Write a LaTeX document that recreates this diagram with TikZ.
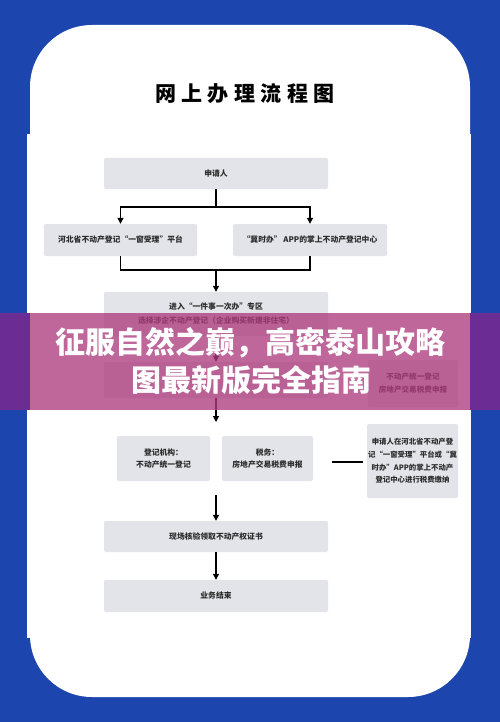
\documentclass[tikz,border=0pt]{standalone}
\usepackage{fontspec}
\setmainfont{Noto Sans CJK SC}
\usetikzlibrary{arrows.meta}
\definecolor{bgblue}{HTML}{1C45AE}
\definecolor{boxgray}{HTML}{E3E4E9}
\definecolor{txt}{HTML}{2C2C2C}
\definecolor{bannerpink}{HTML}{AE3B7E}
\definecolor{bannerside}{HTML}{6B2C94}
\begin{document}
\begin{tikzpicture}[x=1pt,y=-1pt,
  box/.style={fill=boxgray, rounded corners=2pt, inner sep=0pt, text=txt,
    font=\fontsize{7.8}{12}\selectfont\bfseries, align=center},
  arr/.style={line width=1.1pt, -{Triangle[length=6pt,width=6pt]}},
  ln/.style={line width=1.1pt},
  bantext/.style={text=white, font=\fontsize{30}{36}\selectfont\bfseries, inner sep=0pt}]
\useasboundingbox (0,0) rectangle (500,722);
% background
\fill[bgblue] (0,0) rectangle (500,722);
\fill[white, rounded corners=62pt] (30,25) rectangle (470,697);
\fill[white] (27,134) rectangle (471,638);
% title
\node[inner sep=0pt, font=\fontsize{21}{21}\selectfont\bfseries] (title) at (245,94)
  {网\hspace{5.5pt}上\hspace{5.5pt}办\hspace{5.5pt}理\hspace{5.5pt}流\hspace{5.5pt}程\hspace{5.5pt}图};
% boxes
\node[box, minimum width=224pt, minimum height=31pt] (apply) at (216,173.5) {申请人};
\node[box, minimum width=153pt, minimum height=32pt] (hebei) at (120.5,240) {河北省不动产登记“一窗受理”平台};
\node[box, minimum width=154pt, minimum height=32pt] (jsb) at (310,240) {“冀时办” APP的掌上不动产登记中心};
\node[box, minimum width=224pt, minimum height=44pt, font=\fontsize{7.8}{14}\selectfont\bfseries] (enter) at (216,314)
  {进入“一件事一次办”专区\\选择涉企不动产登记（企业购买新建非住宅）};
\node[box, minimum width=224pt, minimum height=36pt] (hidden) at (216,380) {};
\node[box, minimum width=90pt, minimum height=47pt, font=\fontsize{7.6}{13}\selectfont\bfseries] (rightA) at (413,383.5)
  {不动产统一登记\\房地产交易税费申报};
\node[box, minimum width=93pt, minimum height=45pt] (reg) at (163.5,458.5) {登记机构：\\不动产统一登记};
\node[box, minimum width=91pt, minimum height=45pt] (tax) at (267.5,458.5) {税务：\\房地产交易税费申报};
\node[box, minimum width=91pt, minimum height=74pt, font=\fontsize{7.4}{12.7}\selectfont\bfseries] (rightB) at (412.5,461)
  {申请人在河北省不动产登\\记“一窗受理”平台或“冀\\时办”APP的掌上不动产\\登记中心进行税费缴纳};
\node[box, minimum width=224pt, minimum height=31pt] (site) at (216,536.5) {现场核验领取不动产权证书};
\node[box, minimum width=224pt, minimum height=32pt] (end) at (216,596) {业务结束};
% connectors
\coordinate (s1) at (216,207);
\draw[ln] (apply.south) -- (s1);
\draw[arr] (s1) -| (hebei.north);
\draw[arr] (s1) -| (jsb.north);
\coordinate (m1) at (216,270);
\draw[ln] (hebei.south) |- (m1);
\draw[ln] (jsb.south) |- (m1);
\draw[arr] (m1) -- (enter.north);
\draw[arr] (enter.south) -- (hidden.north);
\coordinate (a1) at (216,422);
\draw[arr] (hidden.south) -- (a1);
\coordinate (a2) at (216,495);
\draw[arr] (a2) -- (site.north);
\draw[arr] (site.south) -- (end.north);
\coordinate (l1) at (332,462);
\coordinate (l2) at (363,462);
\draw[ln] (l1) -- (l2);
% banner
\fill[bannerside] (0,313) rectangle (30,410);
\fill[bannerside] (470,313) rectangle (500,410);
\fill[bannerpink, opacity=0.78] (30,313) rectangle (470,410);
\node[bantext] (ban1) at (250,343) {征服自然之巅，高密泰山攻略};
\node[bantext] (ban2) at (251,380) {图最新版完全指南};
\end{tikzpicture}
\end{document}
